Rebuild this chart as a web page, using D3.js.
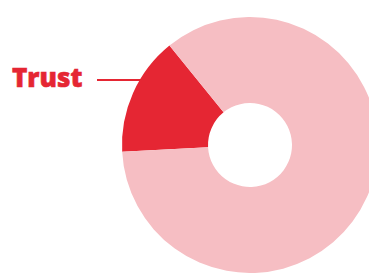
<!DOCTYPE html>
<html>
<head>
<meta charset="utf-8">
<script src="https://cdn.jsdelivr.net/npm/d3@7"></script>
<style>
  body { margin: 0; background: #fff; }
  svg { display: block; }
</style>
</head>
<body>
<div id="chart"></div>
<script>
const width = 369;
const height = 273;

// slices
const labels = ["Trust", "Other"];
const values = [15, 85];
const colors = ["#e52633", "#f6bec3"];

const svg = d3
  .select("#chart")
  .append("svg")
  .attr("width", width)
  .attr("height", height);

const cx = 250, cy = 145;
const outerR = 128, innerR = 42;

const pie = d3
  .pie()
  .sort(null)
  .startAngle((-93 * Math.PI) / 180)
  .endAngle((267 * Math.PI) / 180);

const arc = d3.arc().innerRadius(innerR).outerRadius(outerR);

const g = svg.append("g").attr("transform", `translate(${cx},${cy})`);

g.selectAll("path")
  .data(pie(values))
  .enter()
  .append("path")
  .attr("d", arc)
  .attr("fill", (d, i) => colors[i]);

// label for the highlighted slice
svg
  .append("line")
  .attr("x1", 97)
  .attr("x2", 141)
  .attr("y1", 80)
  .attr("y2", 80)
  .attr("stroke", colors[0])
  .attr("stroke-width", 2);

svg
  .append("text")
  .attr("x", 12)
  .attr("y", 87)
  .attr("fill", colors[0])
  .attr("stroke", colors[0])
  .attr("stroke-width", 0.6)
  .style("font-family", "'Open Sans', sans-serif")
  .style("font-weight", 800)
  .style("font-size", "26px")
  .text(labels[0]);
</script>
</body>
</html>
